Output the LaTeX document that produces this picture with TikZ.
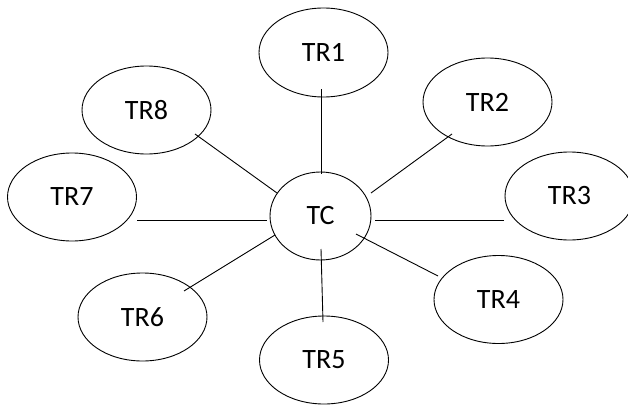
\documentclass[tikz,border=0pt]{standalone}
\usepackage{fontspec}
\setmainfont{Carlito}
\usetikzlibrary{shapes.geometric}
\begin{document}
\begin{tikzpicture}[x=1pt,y=-1pt,
  tr/.style={draw,ellipse,line width=0.9pt,inner sep=0pt,minimum width=129pt,minimum height=88pt,font=\fontsize{28}{32}\selectfont},
  link/.style={line width=0.9pt}]
\useasboundingbox (0,0) rectangle (628,404);
\node[tr,minimum width=101pt] (tc) at (320.5,216) {TC};
\node[tr,minimum height=89pt] (tr1) at (323.5,52.5) {TR1};
\node[tr] (tr2) at (487.5,102) {TR2};
\node[tr] (tr3) at (569.5,196) {TR3};
\node[tr] (tr4) at (498.5,299.5) {TR4};
\node[tr] (tr5) at (324,360) {TR5};
\node[tr] (tr6) at (142.5,317) {TR6};
\node[tr] (tr7) at (72,197) {TR7};
\node[tr] (tr8) at (146.5,110) {TR8};
\draw[link] ([shift={(-2.5,36.5)}]tr1.center) -- ([shift={(0.5,-42)}]tc.center);
\draw[link] ([shift={(-35.5,32)}]tr2.center) -- ([shift={(50.5,-23)}]tc.center);
\draw[link] ([shift={(-65.5,24)}]tr3.center) -- ([shift={(54.5,4)}]tc.center);
\draw[link] ([shift={(-60.5,-23.5)}]tr4.center) -- ([shift={(35.5,18)}]tc.center);
\draw[link] ([shift={(-1,-38)}]tr5.center) -- ([shift={(0.5,33)}]tc.center);
\draw[link] ([shift={(41.5,-26)}]tr6.center) -- ([shift={(-45.5,19)}]tc.center);
\draw[link] ([shift={(65,23)}]tr7.center) -- ([shift={(-53.5,4)}]tc.center);
\draw[link] ([shift={(48.5,24)}]tr8.center) -- ([shift={(-43.5,-23)}]tc.center);
\end{tikzpicture}
\end{document}
